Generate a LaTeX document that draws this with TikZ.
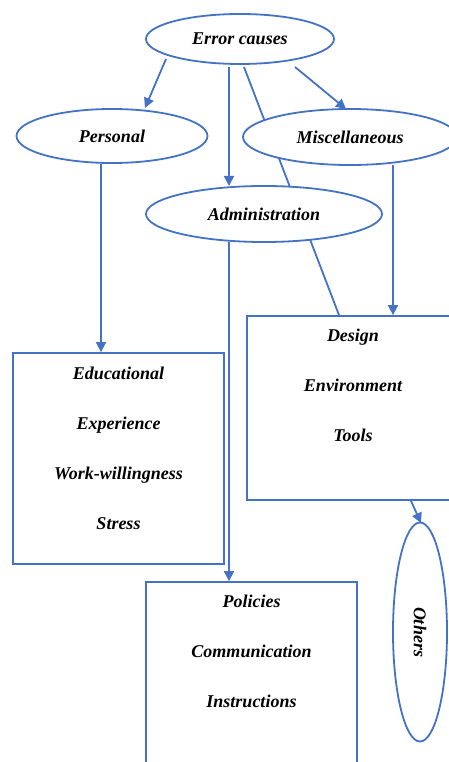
\documentclass[tikz,border=0pt]{standalone}
\usepackage{fontspec}
\setmainfont{Liberation Serif}
\usetikzlibrary{shapes.geometric,arrows.meta,calc,backgrounds}
\definecolor{lineblue}{HTML}{4472C4}
\tikzset{
  oval/.style={ellipse, draw=lineblue, line width=1.8pt, fill=white, inner sep=0pt,
    font=\fontsize{18}{22}\selectfont\bfseries\itshape},
  catbox/.style={rectangle, draw=lineblue, line width=1.8pt, fill=white, inner sep=0pt},
  boxtext/.style={anchor=north, align=center, inner sep=0pt,
    font=\fontsize{18}{50}\selectfont\bfseries\itshape},
  arr/.style={draw=lineblue, line width=1.8pt, -{Triangle[length=10pt,width=10pt]}},
  plain/.style={draw=lineblue, line width=1.8pt}
}
\begin{document}
\begin{tikzpicture}[x=1pt,y=-1pt]
\useasboundingbox (0,0) rectangle (449,762);
\clip (0,0) rectangle (449,762);
% nodes
\node[oval, minimum width=188pt, minimum height=50pt] (err) at (240,39) {Error causes};
\node[oval, minimum width=191pt, minimum height=54pt] (pers) at (112,136) {Personal};
\node[oval, minimum width=214pt, minimum height=56pt] (misc) at (350,137) {Miscellaneous};
\node[oval, minimum width=236pt, minimum height=56pt] (adm) at (264,214) {Administration};
\node[catbox, minimum width=211pt, minimum height=211pt] (edu) at (118.5,458.5) {};
\node[catbox, minimum width=212pt, minimum height=184pt] (des) at (353,408) {};
\node[catbox, minimum width=211pt, minimum height=216pt] (pol) at (251.5,690) {};
\node[oval, rotate=-90, minimum width=219pt, minimum height=54pt] (oth) at (420,632) {Others};
% box texts
\node[boxtext] (edut) at ($(edu.north)+(0,15)$) {Educational\\Experience\\Work-willingness\\Stress};
\node[boxtext] (dest) at ($(des.north)+(0,14)$) {Design\\Environment\\Tools};
\node[boxtext] (polt) at ($(pol.north)+(0,14)$) {Policies\\Communication\\Instructions};
% connectors
\draw[arr] ($(err.center)+(-74,20)$) -- ($(pers.center)+(33,-28)$);
\draw[arr] ($(err.center)+(-11,28)$) -- ($(adm.center)+(-35,-28)$);
\draw[arr] ($(err.center)+(55,28)$) -- ($(misc.center)+(-4,-28)$);
\draw[arr] ($(misc.center)+(43,28)$) -- ($(des.north)+(40,0)$);
\draw[arr] ($(pers.center)+(-11,28)$) -- ($(edu.north)+(-17.5,0)$);
\draw[arr] ($(adm.center)+(-35,28)$) -- ($(pol.north)+(-22.5,0)$);
\draw[arr] ($(des.south)+(58,0)$) -- ($(oth.center)+(1,-109)$);
\begin{scope}[on background layer]
\fill[white] (0,0) rectangle (449,762);
\draw[plain] ($(err.center)+(4,28)$) -- ($(des.north)+(-14,0)$);
\end{scope}
\end{tikzpicture}
\end{document}
